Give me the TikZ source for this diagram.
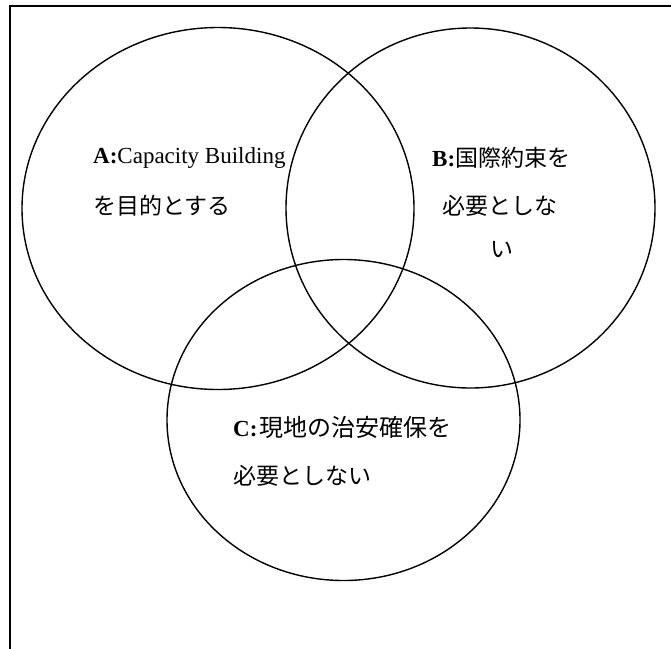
\documentclass[tikz,border=0pt]{standalone}
\usepackage{fontspec}
\setmainfont{Liberation Serif}
\newfontfamily\cjk{Noto Sans CJK JP}
\begin{document}
\begin{tikzpicture}[x=1pt,y=-1pt,
  circ/.style={draw,line width=1.4pt},
  frameline/.style={draw,line width=1.5pt},
  lbl/.style={anchor=base west,inner sep=0pt,font=\fontsize{23}{23}\selectfont}]
\useasboundingbox (0,0) rectangle (671,648);
\begin{scope}
  \clip (0,0) rectangle (671,648);
  \draw[frameline] (10,6) rectangle (720,720);
\end{scope}
\draw[circ] (218,208.5) ellipse [x radius=196pt, y radius=181pt];
\draw[circ] (470.5,208) ellipse [x radius=184.5pt, y radius=180pt];
\draw[circ] (343.5,420) ellipse [x radius=176.5pt, y radius=160.5pt];
% A
\node[lbl] (a1) at (93,163) {\textbf{A:}Capacity Building};
\node[lbl] (a2) at (93,214) {\cjk を目的とする};
% B
\node[lbl] (b1) at (432,166) {\textbf{B:}{\cjk 国際約束を}};
\node[lbl] (b2) at (442,214) {\cjk 必要としな};
\node[lbl] (b3) at (490,257) {\cjk い};
% C
\node[lbl] (c1) at (233,436) {\textbf{C:}\hspace{2pt}{\cjk\fontsize{24}{24}\selectfont 現地の治安確保を}};
\node[lbl] (c2) at (233,484) {\cjk 必要としない};
\end{tikzpicture}
\end{document}
